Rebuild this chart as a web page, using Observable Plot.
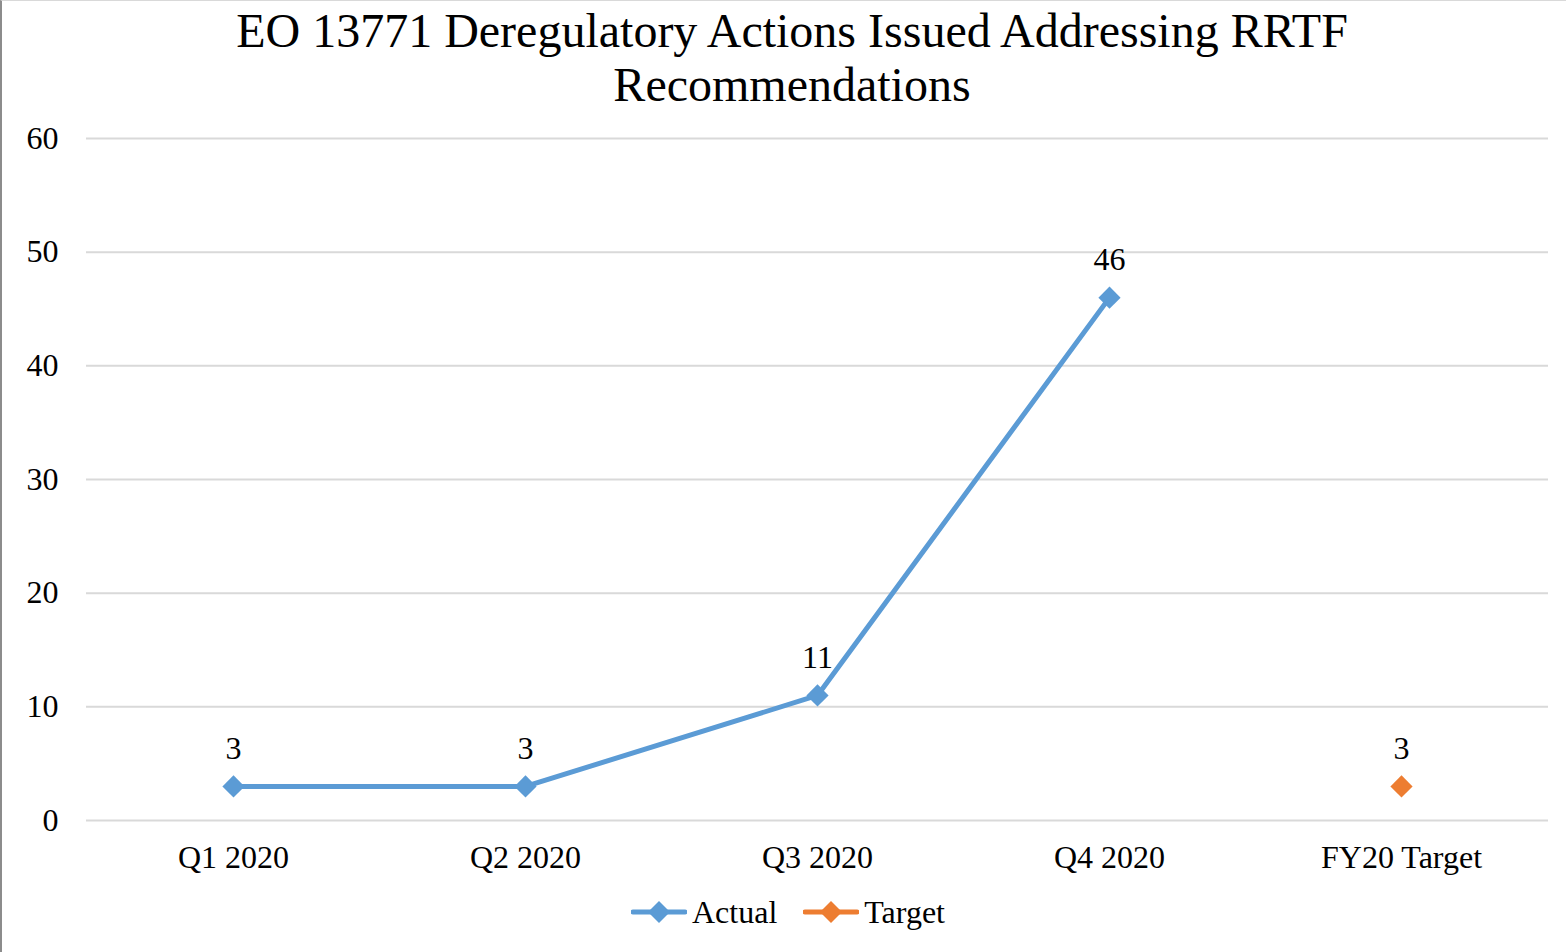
<!DOCTYPE html>
<html>
<head>
<meta charset="utf-8">
<script src="https://cdn.jsdelivr.net/npm/d3@7"></script>
<script src="https://cdn.jsdelivr.net/npm/@observablehq/plot@0.6"></script>
<style>
  html, body { margin: 0; padding: 0; background: #fff; }
  #wrap { position: relative; width: 1564px; height: 951px; border-left: 2px solid #8c8c8c; border-top: 1px solid #d9d9d9; overflow: hidden; font-family: "Liberation Serif", "Times New Roman", serif; }
  #title { height: 117px; text-align: center; font-size: 48px; line-height: 54px; padding-top: 3px; padding-left: 18px; box-sizing: border-box; color: #000; margin-left: -2px; }
  #chart { margin-left: -2px; height: 770px; }
  #legend { display: flex; justify-content: center; align-items: center; font-size: 32px; gap: 26px; margin-left: -2px; padding-left: 10px; height: 48px; }
  #legend .item { display: flex; align-items: center; gap: 5px; }
</style>
</head>
<body>
<div id="wrap">
  <div id="title">EO 13771 Deregulatory Actions Issued Addressing RRTF<br>Recommendations</div>
  <div id="chart"></div>
  <div id="legend"></div>
</div>
<script>
const categories = ["Q1 2020", "Q2 2020", "Q3 2020", "Q4 2020", "FY20 Target"];
const actualCategories = ["Q1 2020", "Q2 2020", "Q3 2020", "Q4 2020"];
const actualValues = [3, 3, 11, 46];
const targetCategories = ["FY20 Target"];
const targetValues = [3];
const yTicks = [0, 10, 20, 30, 40, 50, 60];
const seriesNames = ["Actual", "Target"];
const seriesColors = ["#5B9BD5", "#ED7D31"];

const actual = actualCategories.map((c, i) => ({cat: c, value: actualValues[i]}));
const target = targetCategories.map((c, i) => ({cat: c, value: targetValues[i]}));

const chart = Plot.plot({
  width: 1566,
  height: 770,
  marginTop: 20,
  marginLeft: 86,
  marginRight: 18,
  marginBottom: 68,
  style: { fontFamily: "'Liberation Serif', 'Times New Roman', serif", fontSize: "32px", color: "#000", background: "transparent" },
  x: { domain: categories, type: "band", padding: 0, label: null },
  y: { domain: [0, 60], label: null },
  marks: [
    Plot.ruleY(yTicks, { stroke: "#d9d9d9", strokeWidth: 2 }),
    Plot.axisY({ ticks: yTicks, tickSize: 0, tickPadding: 28, label: null, fontSize: 32 }),
    Plot.axisX({ tickSize: 0, tickPadding: 25, label: null, fontSize: 32 }),
    Plot.line(actual, { x: "cat", y: "value", stroke: seriesColors[0], strokeWidth: 5 }),
    Plot.dot(actual, { x: "cat", y: "value", symbol: "diamond2", r: 10, fill: seriesColors[0], stroke: null }),
    Plot.dot(target, { x: "cat", y: "value", symbol: "diamond2", r: 10, fill: seriesColors[1], stroke: null }),
    Plot.text(actual, { x: "cat", y: "value", text: d => String(d.value), dy: -38, fontSize: 32, fill: "#000" }),
    Plot.text(target, { x: "cat", y: "value", text: d => String(d.value), dy: -38, fontSize: 32, fill: "#000" })
  ]
});
document.getElementById("chart").appendChild(chart);

const legend = document.getElementById("legend");
seriesNames.forEach((name, i) => {
  const item = document.createElement("div");
  item.className = "item";
  item.innerHTML = `<svg width="56" height="24" viewBox="0 0 56 24"><line x1="2" y1="12" x2="54" y2="12" stroke="${seriesColors[i]}" stroke-width="5" stroke-linecap="round"/><path d="M28 1 L39 12 L28 23 L17 12 Z" fill="${seriesColors[i]}"/></svg><span>${name}</span>`;
  legend.appendChild(item);
});
</script>
</body>
</html>
